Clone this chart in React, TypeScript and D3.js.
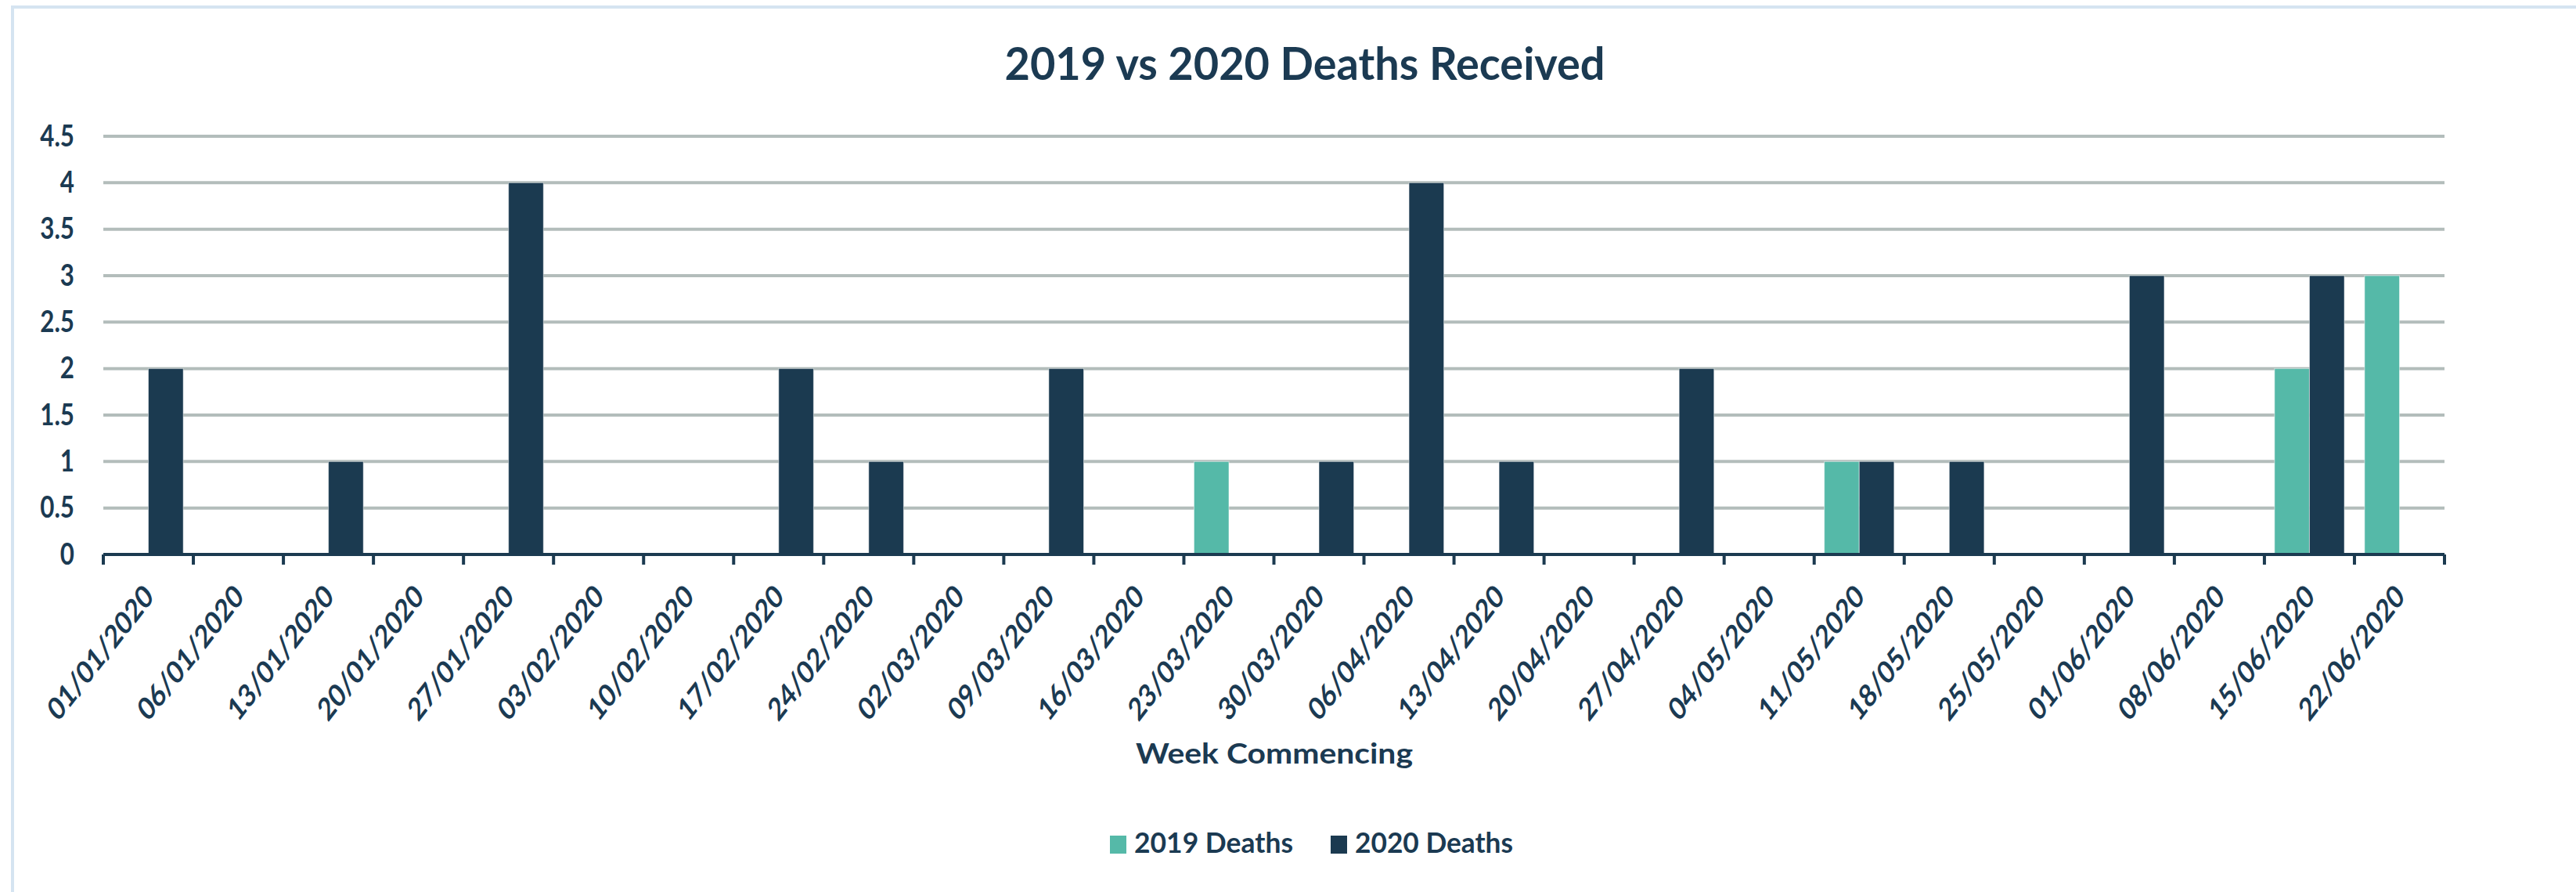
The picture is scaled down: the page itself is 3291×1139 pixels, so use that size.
import React from "react";
import * as d3 from "d3";

const categories = [
  "01/01/2020", "06/01/2020", "13/01/2020", "20/01/2020", "27/01/2020", "03/02/2020",
  "10/02/2020", "17/02/2020", "24/02/2020", "02/03/2020", "09/03/2020", "16/03/2020",
  "23/03/2020", "30/03/2020", "06/04/2020", "13/04/2020", "20/04/2020", "27/04/2020",
  "04/05/2020", "11/05/2020", "18/05/2020", "25/05/2020", "01/06/2020", "08/06/2020",
  "15/06/2020", "22/06/2020",
];
const deaths2019 = [0, 0, 0, 0, 0, 0, 0, 0, 0, 0, 0, 0, 1, 0, 0, 0, 0, 0, 0, 1, 0, 0, 0, 0, 2, 3];
const deaths2020 = [2, 0, 1, 0, 4, 0, 0, 2, 1, 0, 2, 0, 0, 1, 4, 1, 0, 2, 0, 1, 1, 0, 3, 0, 3, 0];
const seriesNames = ["2019 Deaths", "2020 Deaths"];
const yTicks = [0, 0.5, 1, 1.5, 2, 2.5, 3, 3.5, 4, 4.5];
const titleText = "2019 vs 2020 Deaths Received";
const xAxisTitle = "Week Commencing";

const W = 3291;
const H = 1139;
const NAVY = "#1b3a50";
const TEAL = "#55b9a8";
const TEXT = "#1b3a52";
const GRID = "#b3bdbb";
const FONT = "Lato, 'Open Sans', sans-serif";

export default function App() {
  const x = d3.scaleBand<string>().domain(categories).range([132, 3123]).paddingInner(0).paddingOuter(0);
  const inner = d3.scaleBand<string>().domain(seriesNames).range([0, x.step()]).paddingInner(0).paddingOuter(0.29);
  const y = d3.scaleLinear().domain([0, 4.5]).range([708, 174]);
  const series = [
    { name: seriesNames[0], values: deaths2019, color: TEAL },
    { name: seriesNames[1], values: deaths2020, color: NAVY },
  ];
  const tickPositions = d3.range(categories.length + 1).map((i) => 132 + i * x.step());

  return (
    <svg
      width={W}
      height={H}
      style={{ position: "fixed", left: 0, top: 0, background: "#fff" }}
    >
      <rect x={0} y={0} width={W} height={H} fill="#fff" />
      <rect x={16} y={9} width={W + 100} height={H + 100} fill="#fff" stroke="#d5e4f1" strokeWidth={4} />

      <text
        x={1667}
        y={102}
        textAnchor="middle"
        fontFamily={FONT}
        fontWeight={700}
        fontSize={58}
        fill={TEXT}
        textLength={767}
        lengthAdjust="spacingAndGlyphs"
      >
        {titleText}
      </text>

      {yTicks.map((t) => (
        <g key={t}>
          {t > 0 && (
            <line x1={132} x2={3123} y1={y(t)} y2={y(t)} stroke={GRID} strokeWidth={4} />
          )}
          <text
            transform={`translate(95,${y(t) + 12.5}) scale(0.92,1.12)`}
            textAnchor="end"
            fontFamily={FONT}
            fontWeight={700}
            fontSize={34}
            fill={TEXT}
          >
            {String(t)}
          </text>
        </g>
      ))}

      {series.map((s) =>
        s.values.map((v, i) =>
          v > 0 ? (
            <rect
              key={s.name + i}
              x={(x(categories[i]) as number) + (inner(s.name) as number)}
              y={y(v)}
              width={inner.bandwidth()}
              height={y(0) - y(v)}
              fill={s.color}
              stroke="#ffffff"
              strokeOpacity={0.5}
              strokeWidth={1}
            />
          ) : null
        )
      )}

      <line x1={132} x2={3123} y1={708} y2={708} stroke={NAVY} strokeWidth={4} />
      {tickPositions.map((p, i) => (
        <line key={i} x1={p} x2={p} y1={708} y2={721} stroke={NAVY} strokeWidth={4} />
      ))}

      {categories.map((c) => {
        const cx = (x(c) as number) + x.bandwidth() / 2;
        return (
          <text
            key={c}
            transform={`translate(${cx + 8.5},764) scale(1,1.28) rotate(-45)`}
            textAnchor="end"
            fontFamily={FONT}
            fontWeight={700}
            fontSize={31.5}
            fill={TEXT}
          >
            {c}
          </text>
        );
      })}

      <text
        x={1628}
        y={975}
        textAnchor="middle"
        fontFamily={FONT}
        fontWeight={700}
        fontSize={37}
        fill={TEXT}
        textLength={354}
        lengthAdjust="spacingAndGlyphs"
      >
        {xAxisTitle}
      </text>

      <rect x={1418} y={1067} width={21} height={23} fill={TEAL} />
      <text x={1449} y={1089} fontFamily={FONT} fontWeight={700} fontSize={36} fill={TEXT}
        textLength={203} lengthAdjust="spacingAndGlyphs">
        {seriesNames[0]}
      </text>
      <rect x={1700} y={1067} width={21} height={23} fill={NAVY} />
      <text x={1731} y={1089} fontFamily={FONT} fontWeight={700} fontSize={36} fill={TEXT}
        textLength={202} lengthAdjust="spacingAndGlyphs">
        {seriesNames[1]}
      </text>
    </svg>
  );
}
